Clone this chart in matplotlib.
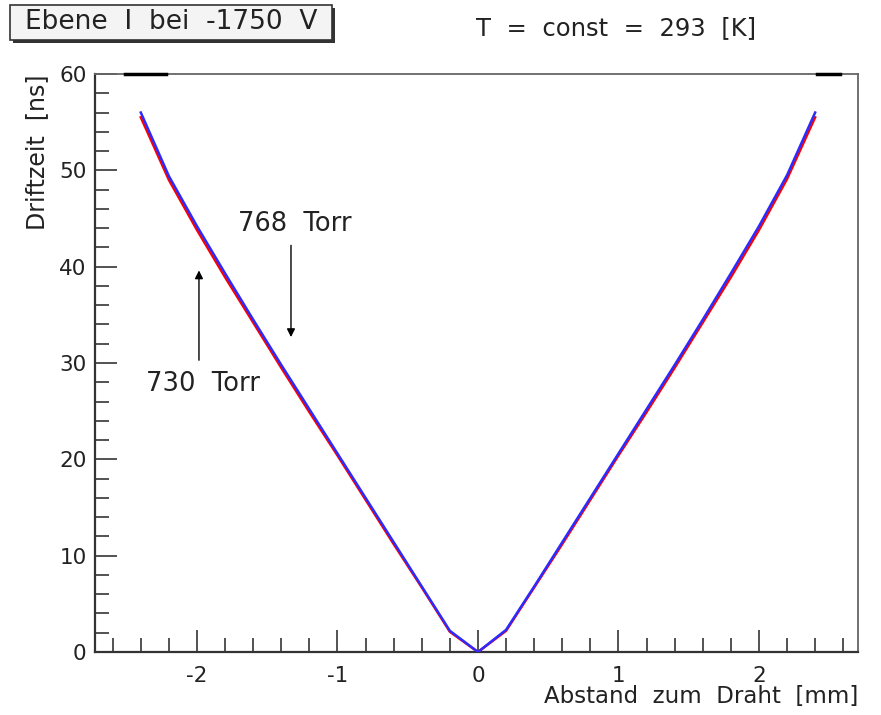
import matplotlib
matplotlib.use("Agg")
import matplotlib.pyplot as plt
from matplotlib.ticker import MultipleLocator
from matplotlib.patches import Rectangle

plt.rcParams["axes.unicode_minus"] = False

# distance to wire [mm]
dist = [-2.4, -2.2, -2.0, -1.8, -1.6, -1.4, -1.2, -1.0, -0.8, -0.6, -0.4, -0.2, 0.0,
        0.2, 0.4, 0.6, 0.8, 1.0, 1.2, 1.4, 1.6, 1.8, 2.0, 2.2, 2.4]
# drift time [ns] at 768 Torr (blue) and 730 Torr (red)
t_768 = [56.0, 49.4, 44.2, 39.3, 34.5, 29.8, 25.2, 20.6, 16.0, 11.4, 6.8, 2.2, 0.0,
         2.3, 6.8, 11.4, 16.0, 20.6, 25.2, 29.8, 34.5, 39.3, 44.2, 49.5, 56.0]
t_730 = [55.5, 49.0, 43.8, 38.9, 34.2, 29.5, 24.9, 20.4, 15.8, 11.2, 6.7, 2.1, 0.0,
         2.2, 6.7, 11.2, 15.8, 20.4, 24.9, 29.5, 34.2, 38.9, 43.8, 49.1, 55.5]

fig = plt.figure(figsize=(8.81, 7.15), dpi=100)
ax = fig.add_axes([95 / 881, 1 - 652 / 715, (858 - 95) / 881, (652 - 74) / 715])

ax.plot(dist, t_730, color="red", lw=1.8, zorder=3)
ax.plot(dist, t_768, color="#2b2bff", lw=1.8, zorder=4)

# short black marks on the upper frame
ax.plot([-2.51, -2.22], [60, 60], color="black", lw=2.5, clip_on=False, zorder=5)
ax.plot([2.41, 2.58], [60, 60], color="black", lw=2.5, clip_on=False, zorder=5)

ax.set_xlim(-2.726, 2.705)
ax.set_ylim(0, 60)

ax.xaxis.set_major_locator(MultipleLocator(1))
ax.xaxis.set_minor_locator(MultipleLocator(0.2))
ax.yaxis.set_major_locator(MultipleLocator(10))
ax.yaxis.set_minor_locator(MultipleLocator(2))
ax.tick_params(which="both", direction="in", top=False, right=False,
               color="#444444", width=1.3, labelcolor="#222222")
ax.tick_params(which="major", length=16, labelsize=15.5, pad=6)
ax.tick_params(which="minor", length=10)
ax.tick_params(axis="x", which="major", pad=10)

for s in ["left", "bottom"]:
    ax.spines[s].set_color("#333333")
    ax.spines[s].set_linewidth(1.6)
for s in ["top", "right"]:
    ax.spines[s].set_color("#666666")
    ax.spines[s].set_linewidth(1.3)

# axis titles
fig.text(858 / 881, 1 - 697 / 715, "Abstand  zum  Draht  [mm]", ha="right", va="center",
         fontsize=16.5, color="#222222")
fig.text(37 / 881, 1 - 74 / 715, "Driftzeit  [ns]", ha="center", va="top",
         rotation=90, fontsize=17, color="#222222")

# annotations
ax.annotate("", xy=(-1.331, 32.4), xytext=(-1.331, 42.5),
            arrowprops=dict(arrowstyle="-|>", color="black", lw=1.0, mutation_scale=12))
ax.annotate("", xy=(-1.986, 39.9), xytext=(-1.986, 30.0),
            arrowprops=dict(arrowstyle="-|>", color="black", lw=1.0, mutation_scale=12))
ax.text(-1.71, 44.4, "768  Torr", fontsize=18.5, va="center", ha="left", color="#222222")
ax.text(-2.36, 27.8, "730  Torr", fontsize=18.5, va="center", ha="left", color="#222222")

# title box with shadow
shadow = Rectangle((13 / 881, 1 - 43 / 715), 322 / 881, 35 / 715, transform=fig.transFigure,
                   facecolor="#333333", edgecolor="none", zorder=1)
box = Rectangle((10 / 881, 1 - 40 / 715), 322 / 881, 35 / 715, transform=fig.transFigure,
                facecolor="#f4f4f4", edgecolor="#333333", lw=1.2, zorder=2)
fig.patches.extend([shadow, box])
fig.text(171 / 881, 1 - 22 / 715, "Ebene  I  bei  -1750  V", ha="center", va="center",
         fontsize=19, color="#222222", zorder=3)
fig.text(616 / 881, 1 - 28 / 715, "T  =  const  =  293  [K]", ha="center", va="center",
         fontsize=17.5, color="#222222")

fig.savefig("out.png", dpi=100)
